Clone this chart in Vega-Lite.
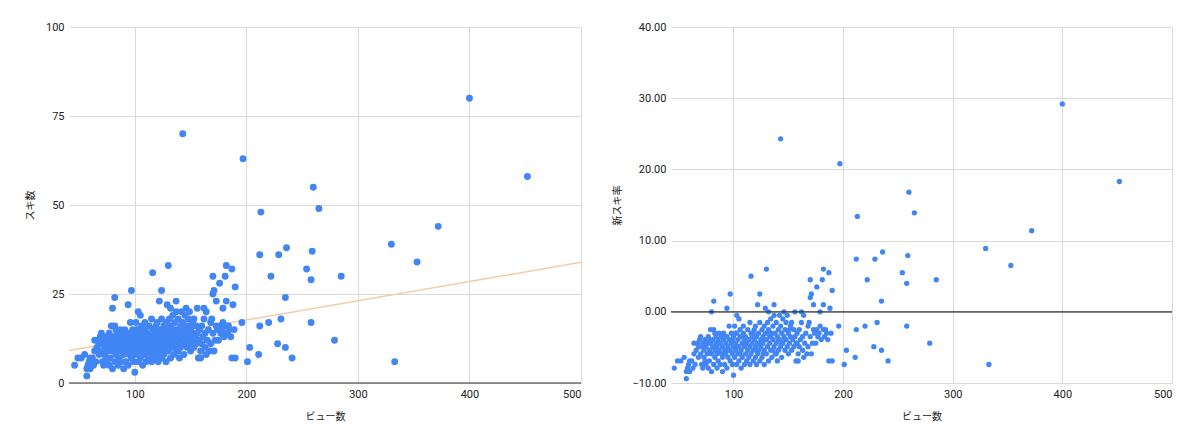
{
  "$schema": "https://vega.github.io/schema/vega-lite/v6.json",
  "background": "white",
  "padding": {"left": 25, "top": 21, "right": 5, "bottom": 5},
  "bounds": "flush",
  "spacing": 90,
  "config": {
    "view": {"stroke": null},
    "axis": {
      "domain": false,
      "ticks": false,
      "grid": true,
      "gridColor": "#dadada",
      "gridWidth": 1,
      "labelFont": "Roboto",
      "labelFontSize": 11,
      "labelColor": "#222222",
      "labelPadding": 5,
      "titleFont": "Noto Sans CJK JP",
      "titleFontSize": 10,
      "titleFontWeight": "normal",
      "titleColor": "#222222"
    },
    "axisX": {"titlePadding": 12},
    "axisY": {"titlePadding": 10}
  },
  "datasets": {
    "trend": [
      {"views": 41, "likes": 9.1},
      {"views": 500, "likes": 33.9}
    ],
    "posts": [
      {"views": 143, "likes": 70, "rate": 24.3},
      {"views": 197, "likes": 63, "rate": 20.8},
      {"views": 400, "likes": 80, "rate": 29.2},
      {"views": 452, "likes": 58, "rate": 18.3},
      {"views": 260, "likes": 55, "rate": 16.8},
      {"views": 265, "likes": 49, "rate": 13.9},
      {"views": 213, "likes": 48, "rate": 13.4},
      {"views": 372, "likes": 44, "rate": 11.4},
      {"views": 330, "likes": 39, "rate": 8.9},
      {"views": 236, "likes": 38, "rate": 8.4},
      {"views": 259, "likes": 37, "rate": 7.9},
      {"views": 212, "likes": 36, "rate": 7.4},
      {"views": 229, "likes": 36, "rate": 7.4},
      {"views": 353, "likes": 34, "rate": 6.5},
      {"views": 254, "likes": 32, "rate": 5.5},
      {"views": 222, "likes": 30, "rate": 4.5},
      {"views": 285, "likes": 30, "rate": 4.5},
      {"views": 258, "likes": 29, "rate": 4.0},
      {"views": 235, "likes": 24, "rate": 1.5},
      {"views": 220, "likes": 17, "rate": -2.0},
      {"views": 258, "likes": 17, "rate": -2.0},
      {"views": 231, "likes": 18, "rate": -1.5},
      {"views": 212, "likes": 16, "rate": -2.5},
      {"views": 279, "likes": 12, "rate": -4.4},
      {"views": 228, "likes": 11, "rate": -4.9},
      {"views": 235, "likes": 10, "rate": -5.4},
      {"views": 203, "likes": 10, "rate": -5.4},
      {"views": 211, "likes": 8, "rate": -6.4},
      {"views": 241, "likes": 7, "rate": -6.9},
      {"views": 201, "likes": 6, "rate": -7.4},
      {"views": 333, "likes": 6, "rate": -7.4},
      {"views": 187, "likes": 7, "rate": -6.9},
      {"views": 190, "likes": 7, "rate": -6.9},
      {"views": 196, "likes": 17, "rate": -2.0},
      {"views": 46, "likes": 5, "rate": -7.9},
      {"views": 49, "likes": 7, "rate": -6.9},
      {"views": 52, "likes": 7, "rate": -6.9},
      {"views": 55, "likes": 8, "rate": -6.4},
      {"views": 57, "likes": 2, "rate": -9.4},
      {"views": 57, "likes": 4, "rate": -8.4},
      {"views": 58, "likes": 5, "rate": -7.9},
      {"views": 59, "likes": 6, "rate": -7.4},
      {"views": 60, "likes": 4, "rate": -8.4},
      {"views": 60, "likes": 7, "rate": -6.9},
      {"views": 62, "likes": 7, "rate": -6.9},
      {"views": 63, "likes": 5, "rate": -7.9},
      {"views": 64, "likes": 9, "rate": -5.9},
      {"views": 64, "likes": 12, "rate": -4.4},
      {"views": 65, "likes": 6, "rate": -7.4},
      {"views": 66, "likes": 10, "rate": -5.4},
      {"views": 67, "likes": 12, "rate": -4.4},
      {"views": 68, "likes": 8, "rate": -6.4},
      {"views": 68, "likes": 11, "rate": -4.9},
      {"views": 69, "likes": 13, "rate": -3.9},
      {"views": 70, "likes": 9, "rate": -5.9},
      {"views": 70, "likes": 14, "rate": -3.5},
      {"views": 71, "likes": 6, "rate": -7.4},
      {"views": 71, "likes": 11, "rate": -4.9},
      {"views": 72, "likes": 12, "rate": -4.4},
      {"views": 72, "likes": 5, "rate": -7.9},
      {"views": 73, "likes": 8, "rate": -6.4},
      {"views": 73, "likes": 10, "rate": -5.4},
      {"views": 74, "likes": 13, "rate": -3.9},
      {"views": 74, "likes": 7, "rate": -6.9},
      {"views": 75, "likes": 11, "rate": -4.9},
      {"views": 75, "likes": 6, "rate": -7.4},
      {"views": 76, "likes": 12, "rate": -4.4},
      {"views": 76, "likes": 9, "rate": -5.9},
      {"views": 77, "likes": 5, "rate": -7.9},
      {"views": 77, "likes": 14, "rate": -3.5},
      {"views": 78, "likes": 10, "rate": -5.4},
      {"views": 78, "likes": 7, "rate": -6.9},
      {"views": 78, "likes": 13, "rate": -3.9},
      {"views": 79, "likes": 12, "rate": -4.4},
      {"views": 79, "likes": 16, "rate": -2.5},
      {"views": 80, "likes": 21, "rate": 0.0},
      {"views": 80, "likes": 4, "rate": -8.4},
      {"views": 80, "likes": 9, "rate": -5.9},
      {"views": 81, "likes": 13, "rate": -3.9},
      {"views": 81, "likes": 11, "rate": -4.9},
      {"views": 82, "likes": 24, "rate": 1.5},
      {"views": 82, "likes": 6, "rate": -7.4},
      {"views": 82, "likes": 16, "rate": -2.5},
      {"views": 83, "likes": 10, "rate": -5.4},
      {"views": 83, "likes": 8, "rate": -6.4},
      {"views": 83, "likes": 15, "rate": -3.0},
      {"views": 84, "likes": 12, "rate": -4.4},
      {"views": 84, "likes": 14, "rate": -3.5},
      {"views": 85, "likes": 5, "rate": -7.9},
      {"views": 85, "likes": 9, "rate": -5.9},
      {"views": 85, "likes": 11, "rate": -4.9},
      {"views": 86, "likes": 13, "rate": -3.9},
      {"views": 86, "likes": 7, "rate": -6.9},
      {"views": 87, "likes": 15, "rate": -3.0},
      {"views": 87, "likes": 10, "rate": -5.4},
      {"views": 87, "likes": 12, "rate": -4.4},
      {"views": 88, "likes": 12, "rate": -4.4},
      {"views": 88, "likes": 6, "rate": -7.4},
      {"views": 89, "likes": 9, "rate": -5.9},
      {"views": 89, "likes": 14, "rate": -3.5},
      {"views": 90, "likes": 11, "rate": -4.9},
      {"views": 90, "likes": 4, "rate": -8.4},
      {"views": 90, "likes": 8, "rate": -6.4},
      {"views": 91, "likes": 13, "rate": -3.9},
      {"views": 91, "likes": 15, "rate": -3.0},
      {"views": 92, "likes": 10, "rate": -5.4},
      {"views": 92, "likes": 6, "rate": -7.4},
      {"views": 92, "likes": 14, "rate": -3.5},
      {"views": 93, "likes": 12, "rate": -4.4},
      {"views": 93, "likes": 9, "rate": -5.9},
      {"views": 94, "likes": 22, "rate": 0.5},
      {"views": 94, "likes": 14, "rate": -3.5},
      {"views": 94, "likes": 5, "rate": -7.9},
      {"views": 95, "likes": 11, "rate": -4.9},
      {"views": 95, "likes": 8, "rate": -6.4},
      {"views": 96, "likes": 13, "rate": -3.9},
      {"views": 96, "likes": 17, "rate": -2.0},
      {"views": 96, "likes": 10, "rate": -5.4},
      {"views": 97, "likes": 26, "rate": 2.5},
      {"views": 97, "likes": 10, "rate": -5.4},
      {"views": 97, "likes": 7, "rate": -6.9},
      {"views": 98, "likes": 12, "rate": -4.4},
      {"views": 98, "likes": 15, "rate": -3.0},
      {"views": 99, "likes": 9, "rate": -5.9},
      {"views": 99, "likes": 6, "rate": -7.4},
      {"views": 99, "likes": 13, "rate": -3.9},
      {"views": 100, "likes": 3, "rate": -8.9},
      {"views": 100, "likes": 11, "rate": -4.9},
      {"views": 100, "likes": 14, "rate": -3.5},
      {"views": 101, "likes": 17, "rate": -2.0},
      {"views": 101, "likes": 8, "rate": -6.4},
      {"views": 102, "likes": 12, "rate": -4.4},
      {"views": 102, "likes": 10, "rate": -5.4},
      {"views": 102, "likes": 15, "rate": -3.0},
      {"views": 103, "likes": 20, "rate": -0.5},
      {"views": 103, "likes": 6, "rate": -7.4},
      {"views": 103, "likes": 15, "rate": -3.0},
      {"views": 104, "likes": 13, "rate": -3.9},
      {"views": 104, "likes": 9, "rate": -5.9},
      {"views": 104, "likes": 11, "rate": -4.9},
      {"views": 105, "likes": 19, "rate": -1.0},
      {"views": 105, "likes": 11, "rate": -4.9},
      {"views": 105, "likes": 7, "rate": -6.9},
      {"views": 106, "likes": 14, "rate": -3.5},
      {"views": 106, "likes": 16, "rate": -2.5},
      {"views": 106, "likes": 9, "rate": -5.9},
      {"views": 107, "likes": 10, "rate": -5.4},
      {"views": 107, "likes": 5, "rate": -7.9},
      {"views": 108, "likes": 12, "rate": -4.4},
      {"views": 108, "likes": 8, "rate": -6.4},
      {"views": 108, "likes": 14, "rate": -3.5},
      {"views": 109, "likes": 15, "rate": -3.0},
      {"views": 109, "likes": 17, "rate": -2.0},
      {"views": 110, "likes": 13, "rate": -3.9},
      {"views": 110, "likes": 11, "rate": -4.9},
      {"views": 110, "likes": 6, "rate": -7.4},
      {"views": 111, "likes": 9, "rate": -5.9},
      {"views": 111, "likes": 14, "rate": -3.5},
      {"views": 111, "likes": 12, "rate": -4.4},
      {"views": 112, "likes": 12, "rate": -4.4},
      {"views": 112, "likes": 7, "rate": -6.9},
      {"views": 113, "likes": 16, "rate": -2.5},
      {"views": 113, "likes": 10, "rate": -5.4},
      {"views": 113, "likes": 13, "rate": -3.9},
      {"views": 114, "likes": 13, "rate": -3.9},
      {"views": 114, "likes": 8, "rate": -6.4},
      {"views": 115, "likes": 18, "rate": -1.5},
      {"views": 115, "likes": 11, "rate": -4.9},
      {"views": 115, "likes": 6, "rate": -7.4},
      {"views": 116, "likes": 31, "rate": 5.0},
      {"views": 116, "likes": 15, "rate": -3.0},
      {"views": 116, "likes": 9, "rate": -5.9},
      {"views": 117, "likes": 12, "rate": -4.4},
      {"views": 117, "likes": 14, "rate": -3.5},
      {"views": 118, "likes": 7, "rate": -6.9},
      {"views": 118, "likes": 10, "rate": -5.4},
      {"views": 118, "likes": 15, "rate": -3.0},
      {"views": 119, "likes": 16, "rate": -2.5},
      {"views": 119, "likes": 13, "rate": -3.9},
      {"views": 120, "likes": 11, "rate": -4.9},
      {"views": 120, "likes": 8, "rate": -6.4},
      {"views": 120, "likes": 17, "rate": -2.0},
      {"views": 121, "likes": 6, "rate": -7.4},
      {"views": 121, "likes": 14, "rate": -3.5},
      {"views": 121, "likes": 10, "rate": -5.4},
      {"views": 122, "likes": 23, "rate": 1.0},
      {"views": 122, "likes": 12, "rate": -4.4},
      {"views": 122, "likes": 9, "rate": -5.9},
      {"views": 123, "likes": 15, "rate": -3.0},
      {"views": 123, "likes": 10, "rate": -5.4},
      {"views": 123, "likes": 12, "rate": -4.4},
      {"views": 124, "likes": 26, "rate": 2.5},
      {"views": 124, "likes": 18, "rate": -1.5},
      {"views": 124, "likes": 7, "rate": -6.9},
      {"views": 125, "likes": 13, "rate": -3.9},
      {"views": 125, "likes": 11, "rate": -4.9},
      {"views": 126, "likes": 16, "rate": -2.5},
      {"views": 126, "likes": 8, "rate": -6.4},
      {"views": 126, "likes": 13, "rate": -3.9},
      {"views": 127, "likes": 14, "rate": -3.5},
      {"views": 127, "likes": 12, "rate": -4.4},
      {"views": 127, "likes": 9, "rate": -5.9},
      {"views": 128, "likes": 17, "rate": -2.0},
      {"views": 128, "likes": 6, "rate": -7.4},
      {"views": 128, "likes": 10, "rate": -5.4},
      {"views": 129, "likes": 22, "rate": 0.5},
      {"views": 129, "likes": 15, "rate": -3.0},
      {"views": 130, "likes": 33, "rate": 6.0},
      {"views": 130, "likes": 13, "rate": -3.9},
      {"views": 130, "likes": 9, "rate": -5.9},
      {"views": 131, "likes": 18, "rate": -1.5},
      {"views": 131, "likes": 11, "rate": -4.9},
      {"views": 131, "likes": 15, "rate": -3.0},
      {"views": 132, "likes": 21, "rate": 0.0},
      {"views": 132, "likes": 7, "rate": -6.9},
      {"views": 132, "likes": 16, "rate": -2.5},
      {"views": 133, "likes": 14, "rate": -3.5},
      {"views": 133, "likes": 12, "rate": -4.4},
      {"views": 134, "likes": 10, "rate": -5.4},
      {"views": 134, "likes": 19, "rate": -1.0},
      {"views": 134, "likes": 14, "rate": -3.5},
      {"views": 135, "likes": 15, "rate": -3.0},
      {"views": 135, "likes": 8, "rate": -6.4},
      {"views": 136, "likes": 13, "rate": -3.9},
      {"views": 136, "likes": 17, "rate": -2.0},
      {"views": 136, "likes": 10, "rate": -5.4},
      {"views": 137, "likes": 20, "rate": -0.5},
      {"views": 137, "likes": 11, "rate": -4.9},
      {"views": 137, "likes": 23, "rate": 1.0},
      {"views": 138, "likes": 9, "rate": -5.9},
      {"views": 138, "likes": 15, "rate": -3.0},
      {"views": 139, "likes": 12, "rate": -4.4},
      {"views": 139, "likes": 18, "rate": -1.5},
      {"views": 139, "likes": 9, "rate": -5.9},
      {"views": 140, "likes": 14, "rate": -3.5},
      {"views": 140, "likes": 7, "rate": -6.9},
      {"views": 141, "likes": 16, "rate": -2.5},
      {"views": 141, "likes": 10, "rate": -5.4},
      {"views": 141, "likes": 13, "rate": -3.9},
      {"views": 142, "likes": 20, "rate": -0.5},
      {"views": 142, "likes": 13, "rate": -3.9},
      {"views": 143, "likes": 11, "rate": -4.9},
      {"views": 143, "likes": 17, "rate": -2.0},
      {"views": 144, "likes": 15, "rate": -3.0},
      {"views": 144, "likes": 8, "rate": -6.4},
      {"views": 144, "likes": 12, "rate": -4.4},
      {"views": 145, "likes": 19, "rate": -1.0},
      {"views": 145, "likes": 12, "rate": -4.4},
      {"views": 146, "likes": 21, "rate": 0.0},
      {"views": 146, "likes": 14, "rate": -3.5},
      {"views": 147, "likes": 10, "rate": -5.4},
      {"views": 147, "likes": 16, "rate": -2.5},
      {"views": 147, "likes": 13, "rate": -3.9},
      {"views": 148, "likes": 18, "rate": -1.5},
      {"views": 148, "likes": 13, "rate": -3.9},
      {"views": 149, "likes": 11, "rate": -4.9},
      {"views": 149, "likes": 20, "rate": -0.5},
      {"views": 150, "likes": 15, "rate": -3.0},
      {"views": 150, "likes": 9, "rate": -5.9},
      {"views": 151, "likes": 12, "rate": -4.4},
      {"views": 151, "likes": 16, "rate": -2.5},
      {"views": 152, "likes": 17, "rate": -2.0},
      {"views": 152, "likes": 14, "rate": -3.5},
      {"views": 153, "likes": 10, "rate": -5.4},
      {"views": 153, "likes": 18, "rate": -1.5},
      {"views": 154, "likes": 13, "rate": -3.9},
      {"views": 155, "likes": 16, "rate": -2.5},
      {"views": 155, "likes": 11, "rate": -4.9},
      {"views": 156, "likes": 21, "rate": 0.0},
      {"views": 156, "likes": 14, "rate": -3.5},
      {"views": 157, "likes": 12, "rate": -4.4},
      {"views": 157, "likes": 7, "rate": -6.9},
      {"views": 158, "likes": 15, "rate": -3.0},
      {"views": 158, "likes": 12, "rate": -4.4},
      {"views": 159, "likes": 7, "rate": -6.9},
      {"views": 159, "likes": 9, "rate": -5.9},
      {"views": 160, "likes": 16, "rate": -2.5},
      {"views": 160, "likes": 11, "rate": -4.9},
      {"views": 161, "likes": 13, "rate": -3.9},
      {"views": 162, "likes": 21, "rate": 0.0},
      {"views": 162, "likes": 18, "rate": -1.5},
      {"views": 163, "likes": 10, "rate": -5.4},
      {"views": 163, "likes": 14, "rate": -3.5},
      {"views": 164, "likes": 20, "rate": -0.5},
      {"views": 164, "likes": 8, "rate": -6.4},
      {"views": 165, "likes": 12, "rate": -4.4},
      {"views": 166, "likes": 15, "rate": -3.0},
      {"views": 167, "likes": 9, "rate": -5.9},
      {"views": 168, "likes": 17, "rate": -2.0},
      {"views": 168, "likes": 11, "rate": -4.9},
      {"views": 169, "likes": 18, "rate": -1.5},
      {"views": 170, "likes": 25, "rate": 2.0},
      {"views": 170, "likes": 30, "rate": 4.5},
      {"views": 170, "likes": 14, "rate": -3.5},
      {"views": 171, "likes": 26, "rate": 2.5},
      {"views": 171, "likes": 9, "rate": -5.9},
      {"views": 172, "likes": 12, "rate": -4.4},
      {"views": 173, "likes": 23, "rate": 1.0},
      {"views": 173, "likes": 16, "rate": -2.5},
      {"views": 174, "likes": 15, "rate": -3.0},
      {"views": 176, "likes": 28, "rate": 3.5},
      {"views": 175, "likes": 12, "rate": -4.4},
      {"views": 176, "likes": 16, "rate": -2.5},
      {"views": 177, "likes": 14, "rate": -3.5},
      {"views": 179, "likes": 21, "rate": 0.0},
      {"views": 178, "likes": 15, "rate": -3.0},
      {"views": 179, "likes": 17, "rate": -2.0},
      {"views": 180, "likes": 13, "rate": -3.9},
      {"views": 182, "likes": 33, "rate": 6.0},
      {"views": 182, "likes": 23, "rate": 1.0},
      {"views": 181, "likes": 30, "rate": 4.5},
      {"views": 182, "likes": 16, "rate": -2.5},
      {"views": 183, "likes": 14, "rate": -3.5},
      {"views": 184, "likes": 16, "rate": -2.5},
      {"views": 185, "likes": 15, "rate": -3.0},
      {"views": 186, "likes": 13, "rate": -3.9},
      {"views": 187, "likes": 32, "rate": 5.5},
      {"views": 188, "likes": 22, "rate": 0.5},
      {"views": 189, "likes": 15, "rate": -3.0},
      {"views": 190, "likes": 27, "rate": 3.0}
    ]
  },
  "hconcat": [
    {
      "width": 512,
      "height": 356,
      "layer": [
        {
          "data": {"name": "trend"},
          "mark": {"type": "line", "color": "#F6CBA6", "strokeWidth": 1.5},
          "encoding": {
            "x": {"field": "views", "type": "quantitative", "scale": {"domain": [41, 500], "nice": false, "zero": false}},
            "y": {"field": "likes", "type": "quantitative", "scale": {"domain": [0, 100], "nice": false}}
          }
        },
        {
          "data": {"name": "posts"},
          "mark": {"type": "circle", "color": "#4285F4", "opacity": 1, "size": 48},
          "encoding": {
            "x": {
              "field": "views",
              "type": "quantitative",
              "title": "ビュー数",
              "scale": {"domain": [41, 500], "nice": false, "zero": false},
              "axis": {"values": [100, 200, 300, 400, 500]}
            },
            "y": {
              "field": "likes",
              "type": "quantitative",
              "title": "スキ数",
              "scale": {"domain": [0, 100], "nice": false},
              "axis": {"values": [0, 25, 50, 75, 100]}
            }
          }
        },
        {
          "data": {"values": [{"likes": 0}]},
          "mark": {"type": "rule", "color": "#333333", "strokeWidth": 1.2},
          "encoding": {
            "y": {"field": "likes", "type": "quantitative", "scale": {"domain": [0, 100], "nice": false}}
          }
        }
      ]
    },
    {
      "width": 501,
      "height": 356,
      "layer": [
        {
          "data": {"name": "posts"},
          "mark": {"type": "circle", "color": "#4285F4", "opacity": 1, "size": 28},
          "encoding": {
            "x": {
              "field": "views",
              "type": "quantitative",
              "title": "ビュー数",
              "scale": {"domain": [43, 500], "nice": false, "zero": false},
              "axis": {"values": [100, 200, 300, 400, 500]}
            },
            "y": {
              "field": "rate",
              "type": "quantitative",
              "title": "新スキ率",
              "scale": {"domain": [-10, 40], "nice": false, "zero": false},
              "axis": {"values": [-10, 0, 10, 20, 30, 40], "format": ".2f"}
            }
          }
        },
        {
          "data": {"values": [{"rate": 0}]},
          "mark": {"type": "rule", "color": "#333333", "strokeWidth": 1.2},
          "encoding": {
            "y": {"field": "rate", "type": "quantitative", "scale": {"domain": [-10, 40], "nice": false, "zero": false}}
          }
        }
      ]
    }
  ]
}
